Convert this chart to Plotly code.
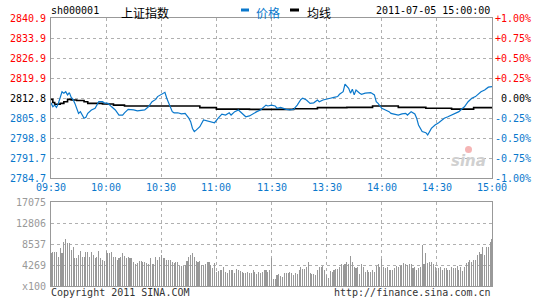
import plotly.graph_objects as go

# ---------------- data ----------------
prev_close = 2812.8
symbol = "sh000001"
index_name = "上证指数"
timestamp = "2011-07-05 15:00:00"

price_minutes = [0, 1, 2, 3, 4, 5, 6, 7, 8, 9, 10, 11, 12, 13, 14, 15, 16, 17, 18, 19, 20, 22, 24, 26, 28, 29,
                 31, 33, 35, 37, 39, 40, 42, 45, 47, 51, 53, 55, 57, 58, 60, 62, 63, 64, 66, 67, 69, 71, 73,
                 75, 76, 77, 78, 79, 81, 83, 85, 87, 89, 91, 93, 95, 97, 98, 100, 102, 104, 106, 108,
                 110, 112, 114, 115, 117, 118, 120, 122, 123, 125, 126, 128, 130, 132, 134, 136, 137, 139,
                 141, 143, 145, 146, 148, 150, 152, 154, 156, 157, 159, 160, 162, 163, 164, 165, 166, 168,
                 169, 171, 173, 174, 176, 177, 178, 180, 182, 184, 185, 187, 189, 191, 193, 194, 196, 198,
                 199, 200, 202, 204, 205, 207, 209, 211, 213, 214, 216, 218, 220, 222, 224, 225, 227, 229,
                 231, 233, 234, 236, 238, 240]
price_values = [2811.1, 2809.7, 2810.3, 2809.5, 2810.9, 2813.3, 2815.0, 2814.5, 2815.0, 2813.9, 2814.7, 2813.0,
                2812.3, 2810.9, 2809.2, 2807.4, 2808.0, 2806.8, 2805.7, 2806.0, 2807.4, 2808.6, 2809.2, 2811.5,
                2811.5, 2811.1, 2810.9, 2809.7, 2808.6, 2806.8, 2806.8, 2807.6, 2808.8, 2808.6, 2808.3, 2808.6,
                2809.7, 2811.5, 2812.3, 2813.3, 2814.1, 2814.8, 2812.7, 2810.9, 2808.0, 2807.6, 2807.6, 2807.2,
                2807.4, 2805.7, 2804.5, 2802.1, 2801.0, 2801.5, 2802.7, 2805.1, 2804.7, 2804.5, 2804.1, 2805.7,
                2807.1, 2806.8, 2807.6, 2806.8, 2808.0, 2808.6, 2807.4, 2806.2, 2806.5,
                2807.4, 2808.0, 2808.6, 2809.2, 2810.3, 2810.0, 2810.3, 2810.0, 2809.2, 2809.5, 2809.2, 2808.8,
                2808.6, 2808.8, 2810.3, 2812.3, 2812.7, 2812.1, 2810.9, 2811.1, 2812.1, 2811.5, 2812.1, 2812.3,
                2812.7, 2813.0, 2813.3, 2814.1, 2815.0, 2817.7, 2816.2, 2814.5, 2815.9, 2813.9, 2815.6, 2814.5,
                2814.1, 2814.5, 2814.5, 2814.7, 2813.9, 2811.5, 2810.9, 2809.2, 2808.6, 2808.0, 2807.4, 2807.1,
                2806.8, 2807.2, 2807.4, 2806.8, 2808.0, 2807.2, 2805.7, 2803.3, 2801.0, 2800.6, 2799.8, 2802.1,
                2803.3, 2804.1, 2805.1, 2805.7, 2806.2, 2806.8, 2807.4, 2808.0, 2809.2, 2809.7, 2811.5, 2812.7,
                2813.3, 2814.5, 2815.0, 2815.6, 2816.6, 2816.8]

avg_minutes = [0, 1, 2, 4, 5, 7, 9, 11, 14, 18, 20, 28, 34, 40, 72, 81, 90, 108, 132, 145, 161, 175, 189,
               204, 218, 230, 240]
avg_values = [2812.3, 2811.2, 2810.6, 2810.6, 2810.9, 2811.5, 2812.3, 2812.1, 2811.9, 2811.5, 2810.9, 2810.7,
              2810.3, 2810.0, 2810.0, 2809.4, 2808.9, 2808.8, 2809.0, 2809.4, 2809.5, 2810.0, 2809.5, 2809.2,
              2808.9, 2809.4, 2809.4]

volume = [6641, 6979, 6979, 6844, 5963, 7657, 6641, 9013, 9487, 8674,
          8674, 7318, 7861, 5624, 5624, 6302, 7115, 5963, 5963, 6912,
          6912, 5963, 6912, 6302, 5624, 5963, 7115, 5624, 5285, 5150,
          7115, 6641, 6641, 6979, 5963, 5963, 5285, 5624, 5963, 6776,
          6098, 5624, 5963, 5624, 5624, 4946, 4472, 4607, 5150, 5150,
          4946, 4946, 4607, 4472, 5624, 4472, 4472, 5963, 5285, 5963,
          6302, 5624, 5624, 5285, 5285, 5285, 4946, 4607, 4946, 4946,
          4065, 4065, 4065, 4268, 5150, 5963, 6302, 6641, 5963, 5150,
          4946, 5150, 4268, 4268, 4472, 4946, 4946, 4268, 3591, 4607,
          2913, 3049, 3252, 3252, 3794, 2913, 2575, 3252, 3252, 3252,
          2575, 3388, 3252, 3117, 2913, 2710, 2710, 2913, 2575, 2575,
          3252, 2913, 2439, 2913, 2710, 2913, 3252, 3252, 2913, 3252,
          5624,
          1355, 1355, 2236, 2439, 2032, 1761, 2710, 2710, 2710, 2913, 2710, 2236,
          2710, 2439, 3252, 3794, 3388, 3388, 3794, 4946, 2575, 2439, 2439, 2236,
          3252, 3794, 3794, 4065, 3252, 2236, 1558, 3117, 2913, 3252, 3388, 3388,
          3794, 4472, 4268, 4472, 4946, 4472, 6098, 4946, 3930, 3591, 3794, 2439,
          4472, 3930, 2913, 3252, 2913, 2913, 3252, 2913, 4065, 4472, 3794, 5489,
          3794, 3591, 3794, 3252, 3252, 3252, 3591, 4065, 3794, 4065, 4268, 4743,
          4472, 4268, 4472, 4472, 3591, 3794, 3252, 3591, 3930, 8335, 4472, 6776,
          4743, 4946, 4946, 4472, 3930, 3117, 3591, 3794, 3252, 3591, 3591, 3252,
          3252, 3794, 3591, 3591, 4065, 3252, 3930, 3117, 3930, 4743, 4946, 5285,
          4946, 5285, 5285, 6302, 6979, 6505, 7996, 6302, 7861, 7861, 9013, 9487]

time_labels = ["09:30", "10:00", "10:30", "11:00", "11:30", "13:30", "14:00", "14:30", "15:00"]
pct_steps = [-1.0, -0.75, -0.5, -0.25, 0.0, 0.25, 0.5, 0.75, 1.0]
price_labels = ["2784.7", "2791.7", "2798.8", "2805.8", "2812.8", "2819.9", "2826.9", "2833.9", "2840.9"]
pct_labels = ["-1.00%", "-0.75%", "-0.50%", "-0.25%", "0.00%", "+0.25%", "+0.50%", "+0.75%", "+1.00%"]
vol_tick_values = [0, 4269, 8537, 12806, 17075]
vol_tick_labels = ["x100", "4269", "8537", "12806", "17075"]
legend_names = ["价格", "均线"]
footer_left = "Copyright 2011 SINA.COM"
footer_right = "http://finance.sina.com.cn"

# ---------------- layout helpers ----------------
W, H = 545, 300
L, R, T, B = 51, 492, 18, 286
MONO = "DejaVu Sans Mono"
CJK = "Noto Sans CJK SC"
BLUE = "#0a78cc"
RED = "#ff0000"
GRAY = "#999999"


def px(x):
    return (x - L) / (R - L)


def py(y):
    return (B - y) / (B - T)


tick_minutes = [i * 30 for i in range(len(time_labels))]
levels = [prev_close * (1 + p / 100.0) for p in pct_steps]
n_min = tick_minutes[-1]

fig = go.Figure()
# very thin bars: plotly snaps sub-2px bars outward to whole pixels -> crisp 1px columns
fig.add_trace(go.Bar(x=list(range(len(volume))), y=volume, width=0.04,
                     marker=dict(color=GRAY, line=dict(width=0)),
                     xaxis="x2", yaxis="y2", hoverinfo="skip"))
fig.add_trace(go.Scatter(x=avg_minutes, y=avg_values, mode="lines",
                         line=dict(color="#000000", width=1.6, shape="hv"),
                         xaxis="x", yaxis="y", hoverinfo="skip"))
fig.add_trace(go.Scatter(x=price_minutes, y=price_values, mode="lines",
                         line=dict(color=BLUE, width=1.2),
                         xaxis="x", yaxis="y", hoverinfo="skip"))

grid = dict(showgrid=True, gridcolor="#b0b0b0", griddash="dot", gridwidth=1,
            showline=True, mirror=True, linecolor=GRAY, linewidth=1,
            zeroline=False, ticks="", showticklabels=False)

fig.update_layout(
    width=W, height=H,
    margin=dict(l=L, r=W - R, t=T, b=H - B, pad=0),
    paper_bgcolor="white", plot_bgcolor="white",
    showlegend=False,
    bargap=0,
    xaxis=dict(domain=[0, 1], anchor="y", range=[0, n_min], tickvals=tick_minutes, **grid),
    yaxis=dict(domain=[py(178), 1.0], anchor="x", range=[levels[0], levels[-1]], tickvals=levels, **grid),
    xaxis2=dict(domain=[0, 1], anchor="y2", range=[0, n_min], tickvals=tick_minutes, **grid),
    yaxis2=dict(domain=[0, py(202)], anchor="x2", range=[0, vol_tick_values[-1]],
                tickvals=vol_tick_values, **grid),
)

ann = []


def add_text(text, x, y, xanchor="left", color="#000", size=10, family=MONO, xref="paper", yref="paper"):
    ann.append(dict(text=text, x=x, y=y, xref=xref, yref=yref, xanchor=xanchor, yanchor="middle",
                    showarrow=False, font=dict(family=family, size=size, color=color), borderpad=0))


for lvl, pct, lab, plab in zip(levels, pct_steps, price_labels, pct_labels):
    c = RED if pct > 0 else ("#000000" if pct == 0 else BLUE)
    add_text(lab, px(47), lvl, "right", c, yref="y")
    add_text(plab, px(532), lvl, "right", c, yref="y")

for m, lab in zip(tick_minutes, time_labels):
    add_text(lab, m, py(188), "center", BLUE, xref="x")

for v, lab in zip(vol_tick_values, vol_tick_labels):
    add_text(lab, px(47), v, "right", GRAY, yref="y2")

add_text(symbol, px(50), py(11), "left", "#000")
add_text(index_name, px(120), py(12), "left", "#000", size=12, family=CJK)
add_text(legend_names[0], px(255), py(12), "left", BLUE, size=12, family=CJK)
add_text(legend_names[1], px(306), py(12), "left", "#000", size=12, family=CJK)
add_text(timestamp, px(491), py(11), "right", "#000")
add_text(footer_left, px(50), py(292), "left", "#333333")
add_text(footer_right, px(492), py(292), "right", "#333333")
ann.append(dict(text="<b><i>sina</i></b>", x=px(488), y=py(161), xref="paper", yref="paper",
                xanchor="right", yanchor="middle", showarrow=False,
                font=dict(family="DejaVu Sans", size=15, color="#d0d0d0")))

fig.update_layout(annotations=ann)
fig.update_layout(shapes=[
    dict(type="line", xref="paper", yref="paper", x0=px(241), x1=px(249), y0=py(10), y1=py(10),
         line=dict(color=BLUE, width=3)),
    dict(type="line", xref="paper", yref="paper", x0=px(290), x1=px(299), y0=py(10), y1=py(10),
         line=dict(color="#000000", width=3)),
    dict(type="circle", xref="paper", yref="paper", x0=px(465), x1=px(472), y0=py(153), y1=py(146),
         fillcolor="#f5b5b5", line=dict(width=0)),
])

fig.write_html("out.html")
